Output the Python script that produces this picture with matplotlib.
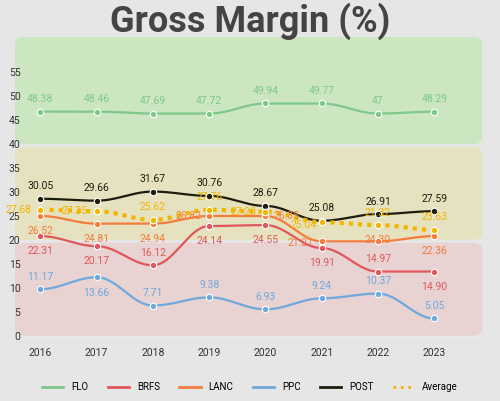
import matplotlib.pyplot as plt
from matplotlib.patches import FancyBboxPatch
from matplotlib.lines import Line2D
import numpy as np

plt.rcParams['font.family'] = ['Roboto', 'DejaVu Sans']

years = [2016, 2017, 2018, 2019, 2020, 2021, 2022, 2023]

flo = [46.8, 46.8, 46.4, 46.4, 48.5, 48.5, 46.4, 46.8]
brfs = [20.8, 18.7, 14.7, 22.9, 23.1, 18.3, 13.4, 13.4]
lanc = [25.0, 23.4, 23.4, 25.0, 25.0, 19.7, 19.7, 20.8]
ppc = [9.7, 12.2, 6.3, 8.0, 5.5, 7.8, 8.8, 3.6]
post = [28.6, 28.2, 30.1, 29.2, 27.1, 24.0, 25.4, 26.0]
avg = [26.3, 26.0, 24.2, 26.3, 25.9, 23.7, 23.1, 22.1]

flo_lbl = ['48.38', '48.46', '47.69', '47.72', '49.94', '49.77', '47', '48.29']
brfs_lbl = ['22.31', '20.17', '16.12', '24.14', '24.55', '19.91', '14.97', '14.90']
lanc_lbl = ['26.52', '24.81', '24.94', '26.82', '26.35', '21.21', '24.30', '22.36']
ppc_lbl = ['11.17', '13.66', '7.71', '9.38', '6.93', '9.24', '10.37', '5.05']
post_lbl = ['30.05', '29.66', '31.67', '30.76', '28.67', '25.08', '26.91', '27.59']
avg_lbl = ['27.68', '27.35', '25.62', '27.76', '27.28', '25.04', '21.32', '23.63']

# label offsets in points
up, down = (0, 9), (0, -11)
left, right = (-16, 0), (16, 0)
flo_off = [up] * 8
post_off = [up] * 8
brfs_off = [down, down, up, down, down, down, up, down]
lanc_off = [down, down, down, (-15, 0), (15, 0), (-15, -1), (0, 1), down]
avg_off = [left, left, up, up, left, (-13, -2), up, up]
ppc_off = [up, down, up, up, up, up, up, up]

series = [
    ('FLO', flo, flo_lbl, flo_off, '#7dc88a', '-'),
    ('BRFS', brfs, brfs_lbl, brfs_off, '#e0575b', '-'),
    ('LANC', lanc, lanc_lbl, lanc_off, '#f47c3c', '-'),
    ('PPC', ppc, ppc_lbl, ppc_off, '#6fa8dc', '-'),
    ('POST', post, post_lbl, post_off, '#1d1d0e', '-'),
    ('Average', avg, avg_lbl, avg_off, '#f2b600', ':'),
]

fig = plt.figure(figsize=(5, 4.01), dpi=100, facecolor='#e6e6e6')
ax = fig.add_axes([0.03, 0.145, 0.94, 0.77])
ax.set_facecolor('#e6e6e6')

bands = [(0, 20, '#e8d2d2'), (20, 40, '#e6e2c0'), (40, 63, '#cce6c2')]
for lo, hi, c in bands:
    ax.add_patch(FancyBboxPatch((2015.55, lo), 8.3, hi - lo - 0.6,
                                boxstyle='round,pad=0,rounding_size=0.2',
                                mutation_aspect=6, fc=c, ec='none', zorder=0))


def smooth(x, y, n=30):
    xs, ys = [], []
    for i in range(len(x) - 1):
        t = np.linspace(0, 1, n)
        s = (1 - np.cos(np.pi * t)) / 2
        xs.extend(x[i] + (x[i + 1] - x[i]) * t)
        ys.extend(y[i] + (y[i + 1] - y[i]) * s)
    return xs, ys


for name, vals, lbls, offs, col, ls in series:
    xs, ys = smooth(years, vals)
    if ls == ':':
        ax.plot(xs, ys, color=col, lw=3, ls=(0, (1, 1.2)), zorder=3)
    else:
        ax.plot(xs, ys, color=col, lw=1.6, zorder=3)
    ax.scatter(years, vals, s=22, color=col, edgecolor='white', linewidth=0.8, zorder=4)
    for x, v, t, o in zip(years, vals, lbls, offs):
        ax.annotate(t, (x, v), xytext=o, textcoords='offset points',
                    ha='center', va='center', fontsize=7.5, color=col, zorder=5)

ax.set_xlim(2015.55, 2023.9)
ax.set_ylim(-1.5, 63)
ax.set_xticks(years)
ax.set_yticks(range(0, 56, 5))
ax.tick_params(length=0, labelsize=7.5, colors='#333333')
ax.tick_params(axis='y', pad=-4)
for sp in ax.spines.values():
    sp.set_visible(False)
ax.axhline(-1.5, color='#cccccc', lw=1)

fig.text(0.5, 0.948, 'Gross Margin (%)', ha='center', va='center',
         fontsize=26, fontweight='bold', color='#444444')

handles = [Line2D([], [], color=c, lw=2, ls=':' if ls == ':' else '-')
           for _, _, _, _, c, ls in series]
fig.legend(handles, [s[0] for s in series], loc='lower center', ncol=6,
           frameon=False, fontsize=7, bbox_to_anchor=(0.5, 0.0), handlelength=2.2)

fig.savefig('out.png', dpi=100, facecolor=fig.get_facecolor())
